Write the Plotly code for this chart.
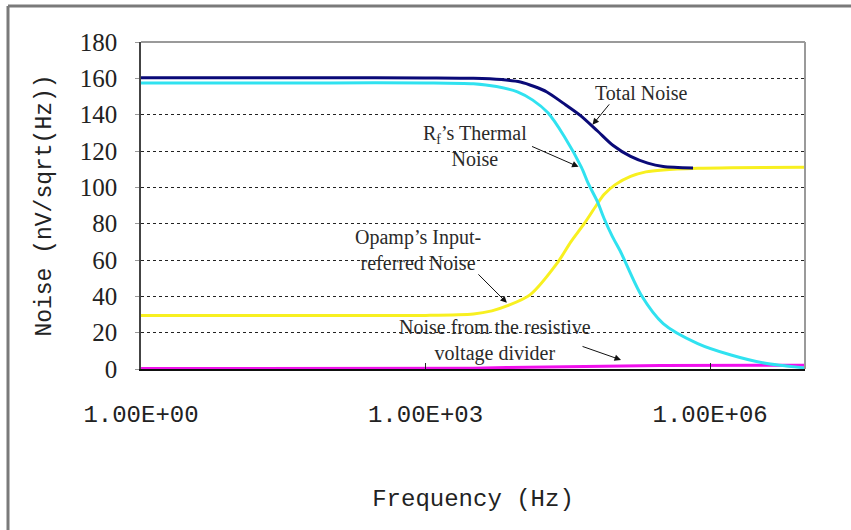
import math
import plotly.graph_objects as go

# ---- data ----
total_freq = [1, 10, 100, 1e3, 3.2e3, 6.3e3, 1e4, 1.4e4, 1.9e4, 2.8e4, 4.3e4, 6.5e4, 9.5e4, 1.45e5, 2.2e5, 3.2e5, 6.6e5]
total_noise = [160.3, 160.3, 160.3, 160.2, 160.0, 159.3, 158.0, 155.5, 152.5, 146.5, 139.5, 131.0, 123.0, 117.0, 113.3, 111.5, 110.7]

rf_freq = [1, 10, 100, 1e3, 3.2e3, 5.6e3, 9.3e3, 1.35e4, 1.95e4, 2.9e4, 4.4e4, 5.2e4, 6.5e4, 7.6e4, 9.3e4, 1.15e5,
           1.86e5, 3.2e5, 7.4e5, 1.66e6, 3.7e6, 1e7]
rf_noise = [157.5, 157.5, 157.5, 157.5, 157.0, 155.5, 152.6, 148.0, 141.0, 128.0, 111.0, 102.0, 92.0, 83.0, 73.0, 64.0,
            41.0, 25.0, 14.0, 7.7, 3.3, 0.6]

opamp_freq = [1, 10, 100, 1e3, 3.2e3, 5e3, 7.2e3, 1.26e4, 2.45e4, 3.4e4, 4.7e4, 6.3e4, 7.6e4,
              1e5, 1.45e5, 2.1e5, 3.2e5, 7.4e5, 1.66e6, 1e7]
opamp_noise = [29.5, 29.5, 29.5, 29.5, 30.3, 32.0, 34.7, 40.8, 58.4, 70.0, 80.0, 90.0, 96.0,
               101.5, 106.0, 108.5, 109.6, 110.5, 110.8, 111.0]

divider_freq = [1, 10, 100, 1e3, 3.2e3, 7.2e3, 2.45e4, 5.1e4, 3e5, 1e7]
divider_noise = [0.3, 0.3, 0.3, 0.35, 0.4, 0.8, 1.2, 1.7, 1.9, 2.1]

x_tick_vals = [1, 1e3, 1e6]
x_tick_text = ["1.00E+00", "1.00E+03", "1.00E+06"]
y_tick_vals = [0, 20, 40, 60, 80, 100, 120, 140, 160, 180]

# annotation labels: (text, text_freq, text_y, arrow_head_freq, arrow_head_y, ax, ay)
labels = [
    ("Total Noise", 1.9e5, 152, 5.75e4, 134.4, 18, -22),
    ("R<sub>f</sub>\u2019s Thermal<br>Noise", 3.3e3, 123, 4.1e4, 111.3, -48, -21),
    ("Opamp\u2019s Input-<br>referred Noise", 830, 65.3, 7.2e3, 36.4, -30, -30),
    ("Noise from the resistive<br>voltage divider", 5.4e3, 15.7, 1.15e5, 5.0, -40, -14),
]

fig = go.Figure()
fig.add_trace(go.Scatter(x=divider_freq, y=divider_noise, mode="lines",
                         line=dict(color="#F010EC", width=3), name="Divider"))
fig.add_trace(go.Scatter(x=opamp_freq, y=opamp_noise, mode="lines",
                         line=dict(color="#F8F020", width=3, shape="spline", smoothing=0.8), name="Opamp"))
fig.add_trace(go.Scatter(x=rf_freq, y=rf_noise, mode="lines",
                         line=dict(color="#30E2F0", width=3, shape="spline", smoothing=0.8), name="Rf"))
fig.add_trace(go.Scatter(x=total_freq, y=total_noise, mode="lines",
                         line=dict(color="#0A0A78", width=3, shape="spline", smoothing=0.8), name="Total"))

for text, tx, ty, hx, hy, ax, ay in labels:
    fig.add_annotation(x=math.log10(tx), y=ty, xref="x", yref="y", text=text, showarrow=False,
                       font=dict(family="Liberation Serif", size=20, color="#2a2a2a"), align="center")
    fig.add_annotation(x=math.log10(hx), y=hy, xref="x", yref="y", text="", showarrow=True,
                       ax=ax, ay=ay, arrowhead=2, arrowsize=1.3, arrowwidth=1, arrowcolor="#111")

# plot-area top/right border (gray) and outer chart frame (left/top)
fig.add_shape(type="line", xref="paper", yref="paper", x0=0, x1=1, y0=1, y1=1,
              line=dict(color="#9a9a9a", width=2))
fig.add_shape(type="line", xref="paper", yref="paper", x0=1, x1=1, y0=0, y1=1,
              line=dict(color="#9a9a9a", width=2))
fig.add_shape(type="line", xref="paper", yref="paper", x0=(8 - 141) / 664, x1=(851 - 141) / 664,
              y0=(369 - 6) / 327, y1=(369 - 6) / 327, line=dict(color="#7a7a7a", width=3))
fig.add_shape(type="line", xref="paper", yref="paper", x0=(8 - 141) / 664, x1=(8 - 141) / 664,
              y0=(369 - 530) / 327, y1=(369 - 6) / 327, line=dict(color="#7a7a7a", width=3))

fig.update_layout(
    width=851, height=530,
    margin=dict(l=141, r=46, t=42, b=161),
    paper_bgcolor="white", plot_bgcolor="white",
    showlegend=False,
    xaxis=dict(type="log", range=[0, 7], tickvals=x_tick_vals, ticktext=x_tick_text,
               ticks="inside", ticklen=6, tickcolor="#222", showgrid=False, zeroline=False,
               showline=True, linecolor="#111", linewidth=1.5,
               tickfont=dict(family="Liberation Mono", size=24, color="#222"),
               ticklabelstandoff=22,
               title=dict(text="Frequency (Hz)", standoff=62,
                          font=dict(family="Liberation Mono", size=24, color="#222"))),
    yaxis=dict(range=[0, 180], tickvals=y_tick_vals, ticks="outside", ticklen=4, tickcolor="#999",
               showgrid=True, gridcolor="#222", gridwidth=1, griddash="3px,3px", zeroline=False,
               showline=True, linecolor="#444", linewidth=1.5,
               tickfont=dict(family="Liberation Serif", size=25, color="#222"),
               ticklabelstandoff=13,
               title=dict(text="Noise (nV/sqrt(Hz))", standoff=22,
                          font=dict(family="Liberation Mono", size=23, color="#222"))),
)

fig.write_html("out.html")
